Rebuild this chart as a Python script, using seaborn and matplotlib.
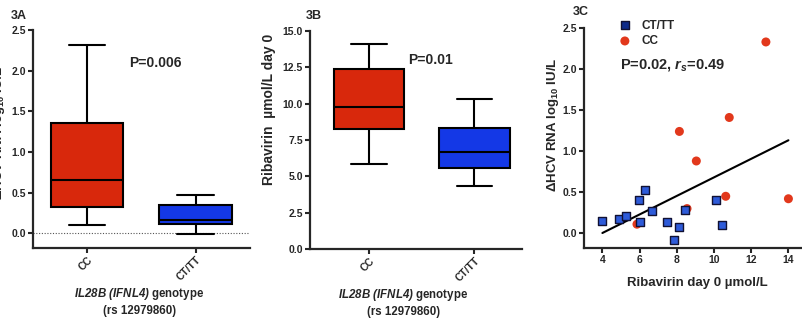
import numpy as np
import pandas as pd
import matplotlib
matplotlib.use("Agg")
import matplotlib.pyplot as plt
import seaborn as sns

# Valores
genotypes = ["CC", "CT/TT"]
# resumo de 5 números (min, q1, mediana, q3, max)
delta_cc = [0.107, 0.324, 0.657, 1.355, 2.32]
delta_cttt = [-0.012, 0.11, 0.169, 0.345, 0.476]
rbv_cc = [5.87, 8.26, 9.79, 12.36, 14.1]
rbv_cttt = [4.33, 5.60, 6.67, 8.33, 10.34]

# dispersão 3C
sc_cttt_x = [4.0, 4.875, 5.29, 5.96, 6.29, 6.0, 6.68, 7.46, 8.14, 7.84, 8.45, 10.125, 10.41]
sc_cttt_y = [0.15, 0.175, 0.21, 0.40, 0.53, 0.14, 0.27, 0.135, 0.073, -0.077, 0.28, 0.40, 0.10]
sc_cc_x = [12.79, 10.82, 8.14, 9.05, 10.63, 14.0, 8.55, 5.86]
sc_cc_y = [2.33, 1.41, 1.24, 0.88, 0.45, 0.42, 0.30, 0.11]

box_colors = {"CC": "#D8280C", "CT/TT": "#1438E6"}
pt_blue = "#2E5BD9"
pt_red = "#E2381C"

sns.set_style("ticks")
plt.rcParams["font.family"] = ["Liberation Sans", "DejaVu Sans"]
plt.rcParams["font.weight"] = "bold"
plt.rcParams["mathtext.fontset"] = "custom"
plt.rcParams["mathtext.rm"] = "Liberation Sans:bold"
plt.rcParams["mathtext.it"] = "Liberation Sans:italic:bold"
plt.rcParams["mathtext.bf"] = "Liberation Sans:bold"
# itálico completo (dígitos e parênteses inclusive)
plt.rcParams["mathtext.cal"] = "Liberation Sans:italic:bold"

fig = plt.figure(figsize=(8.03, 3.2), dpi=100)
axA = fig.add_axes([0.041, 0.225, 0.270, 0.681])
axB = fig.add_axes([0.386, 0.222, 0.264, 0.681])
axC = fig.add_axes([0.727, 0.225, 0.278, 0.6875])

xlab = r"$\mathcal{IL28B\ (IFNL4)}$ genotype" + "\n(rs 12979860)"
ylab_delta = r"$\Delta$HCV RNA log$_{10}$ IU/L"


def estilo(ax):
    for s in ["top", "right"]:
        ax.spines[s].set_visible(False)
    for s in ["left", "bottom"]:
        ax.spines[s].set_linewidth(1.6)
    ax.tick_params(width=1.5, length=3.5, labelsize=7.5, pad=1.5)
    for lbl in ax.get_xticklabels() + ax.get_yticklabels():
        lbl.set_fontweight("bold")


def caixas(ax, v_cc, v_cttt):
    df = pd.DataFrame({
        "genotype": ["CC"] * len(v_cc) + ["CT/TT"] * len(v_cttt),
        "value": v_cc + v_cttt,
    })
    sns.boxplot(data=df, x="genotype", y="value", hue="genotype", order=genotypes,
                palette=box_colors, width=0.67, whis=(0, 100), linewidth=1.5,
                linecolor="black", saturation=1, legend=False, ax=ax)
    ax.set_xticks([0, 1])
    ax.set_xticklabels(genotypes, rotation=45, ha="right", rotation_mode="anchor")


# 3A
caixas(axA, delta_cc, delta_cttt)
axA.axhline(0, color="#555555", ls=(0, (1, 1.5)), lw=0.8, zorder=0)
axA.set_xlim(-0.5, 1.5)
axA.set_ylim(-0.18, 2.5)
axA.set_yticks(np.arange(0, 2.51, 0.5))
axA.yaxis.set_major_formatter(matplotlib.ticker.FormatStrFormatter("%.1f"))
axA.set_ylabel(ylab_delta, fontsize=9.5, fontweight="bold")
axA.yaxis.set_label_coords(-0.118, 0.53)
axA.set_xlabel(xlab, fontsize=8.3, fontweight="bold", va="top", linespacing=1.3)
axA.xaxis.set_label_coords(0.49, -0.175)
axA.text(0.634, 2.1, "P=0.006", fontsize=10, fontweight="bold", ha="center", va="center")
estilo(axA)

# 3B
caixas(axB, rbv_cc, rbv_cttt)
axB.set_xlim(-0.56, 1.45)
axB.set_ylim(0, 15)
axB.set_yticks(np.arange(0, 15.1, 2.5))
axB.yaxis.set_major_formatter(matplotlib.ticker.FormatStrFormatter("%.1f"))
axB.set_ylabel("Ribavirin  µmol/L day 0", fontsize=10, fontweight="bold")
axB.yaxis.set_label_coords(-0.16, 0.64)
axB.set_xlabel(xlab, fontsize=8.3, fontweight="bold", va="top", linespacing=1.3)
axB.xaxis.set_label_coords(0.44, -0.175)
axB.text(0.58, 13.0, "P=0.01", fontsize=10, fontweight="bold", ha="center", va="center")
estilo(axB)

# 3C
all_x = sc_cc_x + sc_cttt_x
all_y = sc_cc_y + sc_cttt_y
sns.regplot(x=all_x, y=all_y, scatter=False, ci=None, color="black",
            line_kws={"lw": 1.5}, ax=axC)
sns.scatterplot(x=sc_cc_x, y=sc_cc_y, marker="o", s=42, color=pt_red,
                edgecolor="none", label="CC", ax=axC, zorder=3)
sns.scatterplot(x=sc_cttt_x, y=sc_cttt_y, marker="s", s=40, color=pt_blue,
                edgecolor="#111133", linewidth=1.0, label="CT/TT", ax=axC, zorder=4)
h, l = axC.get_legend_handles_labels()
leg = axC.legend(h[::-1], l[::-1], frameon=False, loc="upper left",
                 bbox_to_anchor=(0.11, 1.06), prop={"size": 8.5, "weight": "bold"},
                 handletextpad=0.4, labelspacing=0.3, borderaxespad=0)
leg.legend_handles[0].set_facecolor("#0E2A8A")
axC.set_xlim(3, 15)
axC.set_ylim(-0.18, 2.5)
axC.set_xticks([4, 6, 8, 10, 12, 14])
axC.set_yticks(np.arange(0, 2.51, 0.5))
axC.yaxis.set_major_formatter(matplotlib.ticker.FormatStrFormatter("%.1f"))
axC.set_ylabel(ylab_delta, fontsize=9.5, fontweight="bold")
axC.yaxis.set_label_coords(-0.1, 0.56)
axC.set_xlabel("Ribavirin day 0 µmol/L", fontsize=9.5, fontweight="bold", va="top")
axC.xaxis.set_label_coords(0.51, -0.13)
axC.text(4.95, 2.05, r"P=0.02, $r_s$=0.49", fontsize=10.5, fontweight="bold",
         ha="left", va="center")
estilo(axC)

fig.text(19 / 803, 1 - 16 / 320, "3A", fontsize=9, fontweight="bold", ha="center", va="center")
fig.text(314 / 803, 1 - 16 / 320, "3B", fontsize=9, fontweight="bold", ha="center", va="center")
fig.text(581 / 803, 1 - 12 / 320, "3C", fontsize=9, fontweight="bold", ha="center", va="center")

fig.savefig("out.png", dpi=100)
